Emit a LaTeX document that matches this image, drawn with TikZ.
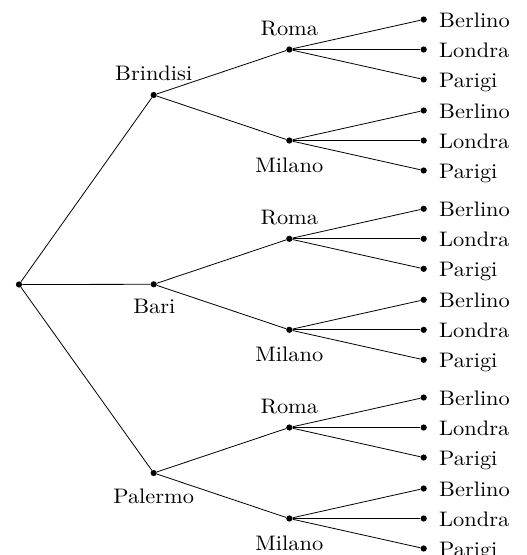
\documentclass[tikz,border=0pt]{standalone}
\newcommand{\citylab}[1]{\scalebox{2.24}[2.1]{\fontsize{10}{12}\selectfont #1}}
\begin{document}
\begin{tikzpicture}[x=1pt,y=-1pt,
  dot/.style={circle,fill=black,inner sep=0pt,minimum size=6.2pt},
  lbl/.style={inner sep=0pt},
  edge/.style={draw=black,line width=0.8pt}]
\useasboundingbox (0,0) rectangle (527,555);
\node[dot] (r) at (19,284.5) {};
\foreach \i/\y/\name/\dy/\dx in {1/95/Brindisi/-14.7/0, 2/284.3/Bari/29.3/0.6, 3/473/Palermo/30.6/0}{
  \node[dot] (a\i) at (153.7,\y) {};
  \node[lbl,anchor=base] (ta\i) at ([shift={(\dx,\dy)}]a\i.center) {\citylab{\name}};
  \draw[edge] (r) -- (a\i);
  \foreach \j/\oy/\cname/\cdy in {1/-45.5/Roma/-14.3, 2/45.5/Milano/31.7}{
    \node[dot] (b\i\j) at (289.3,\y+\oy) {};
    \node[lbl,anchor=base] (tb\i\j) at ([shift={(0,\cdy)}]b\i\j.center) {\citylab{\cname}};
    \draw[edge] (a\i) -- (b\i\j);
    \foreach \k/\ly/\lname in {1/-30/Berlino, 2/0/Londra, 3/30/Parigi}{
      \node[dot] (c\i\j\k) at (423.7,\y+\oy+\ly) {};
      \node[lbl,anchor=base west] (tc\i\j\k) at ([shift={(15.3,8.0)}]c\i\j\k.center) {\citylab{\lname}};
      \draw[edge] (b\i\j) -- (c\i\j\k);
    }
  }
}
\end{tikzpicture}
\end{document}
